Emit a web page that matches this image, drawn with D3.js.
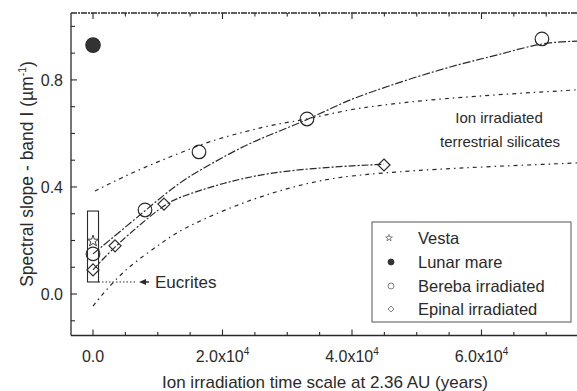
<!DOCTYPE html>
<html><head><meta charset="utf-8">
<script src="https://cdn.jsdelivr.net/npm/d3@7"></script>
<style>html,body{margin:0;padding:0;background:#fff;}svg{display:block;font-family:"Liberation Sans",Arial,sans-serif;}</style>
</head><body><svg id="c" width="577" height="391"></svg>
<script>
// ---- data ----
const beribaX = [0, 8030, 16370, 33050, 69340];
const beribaY = [0.15, 0.314, 0.531, 0.654, 0.953];
const epinalX = [0, 3400, 10960, 44940];
const epinalY = [0.09, 0.18, 0.336, 0.482];
const vestaX = [0];
const vestaY = [0.198];
const lunarX = [0];
const lunarY = [0.93];
// fit curves
const beribaFitX = [0, 8000, 13400, 18500, 23800, 28900, 33000, 38600, 41200, 49000, 56700, 62900, 69300, 75000];
const beribaFitY = [0.15, 0.31, 0.42, 0.49, 0.56, 0.61, 0.65, 0.715, 0.74, 0.805, 0.86, 0.895, 0.94, 0.945];
const epinalFitX = [0, 3400, 10960, 13500, 20000, 27400, 36700, 44900];
const epinalFitY = [0.09, 0.18, 0.336, 0.363, 0.415, 0.455, 0.475, 0.485];
const upperX = [300, 4600, 8800, 13400, 18100, 23800, 28400, 33000, 39200, 44300, 51600, 61800, 74800];
const upperY = [0.385, 0.437, 0.482, 0.527, 0.572, 0.609, 0.636, 0.652, 0.688, 0.705, 0.725, 0.744, 0.763];
const lowerX = [0, 2900, 6200, 10800, 13400, 21200, 28900, 36600, 44300, 55000, 75000];
const lowerY = [-0.045, 0.041, 0.116, 0.194, 0.239, 0.325, 0.389, 0.434, 0.452, 0.47, 0.49];
const eucriteRange = [0.045, 0.31];
const eucriteHalfWidth = 850;
const xTickMajor = [0, 20000, 40000, 60000];
const xTickLabels = ["0.0", "2.0x10", "4.0x10", "6.0x10"];
const xTickExp = ["", "4", "4", "4"];
const xTickMinor = d3.range(0, 70001, 5000);
const yTickMajor = [0, 0.4, 0.8];
const yTickLabels = ["0.0", "0.4", "0.8"];
const yTickMinor = [-0.1, 0, 0.1, 0.2, 0.3, 0.4, 0.5, 0.6, 0.7, 0.8, 0.9, 1.0];
const legendNames = ["Vesta", "Lunar mare", "Bereba irradiated", "Epinal irradiated"];

// ---- chart ----
const svg = d3.select("#c");
const ink = "#2a2a2a";
const L = 71, R = 578.6, T = 13, B = 335.5;
const x = d3.scaleLinear().domain([-3400, 75000]).range([L, R]);
const y = d3.scaleLinear().domain([-0.155, 1.05]).range([B, T]);

svg.append("defs").append("clipPath").attr("id","clip")
  .append("rect").attr("x",L).attr("y",T).attr("width",R-L).attr("height",B-T);

// frame
const frame = svg.append("g").attr("stroke", ink).attr("stroke-width", 1.3).attr("fill","none");
frame.append("line").attr("x1",L).attr("x2",R).attr("y1",B).attr("y2",B);
frame.append("line").attr("x1",L).attr("x2",R).attr("y1",T).attr("y2",T).attr("stroke-dasharray","6,1,2,1");
frame.append("line").attr("x1",L).attr("x2",L).attr("y1",T).attr("y2",B);

// ticks
const tk = svg.append("g").attr("stroke", ink).attr("stroke-width", 1.1);
xTickMinor.forEach(v => {
  const maj = xTickMajor.includes(v);
  const len = maj ? 6 : 3.5;
  tk.append("line").attr("x1",x(v)).attr("x2",x(v)).attr("y1",B).attr("y2",B-len);
  tk.append("line").attr("x1",x(v)).attr("x2",x(v)).attr("y1",T).attr("y2",T+len);
});
yTickMinor.forEach(v => {
  const maj = yTickMajor.some(m => Math.abs(m-v)<1e-9);
  const len = maj ? 6 : 4;
  tk.append("line").attr("x1",L).attr("x2",L+len).attr("y1",y(v)).attr("y2",y(v));
});

// tick labels
const tl = svg.append("g").attr("fill", ink).attr("font-size", 16);
xTickMajor.forEach((v,i) => {
  const t = tl.append("text").attr("x", x(v)).attr("y", 362).attr("text-anchor","middle");
  t.append("tspan").text(xTickLabels[i]);
  if (xTickExp[i]) t.append("tspan").attr("font-size", 10).attr("dy", -7).text(xTickExp[i]);
});
yTickMajor.forEach((v,i) => {
  tl.append("text").attr("x", 63).attr("y", y(v)).attr("dy","0.36em").attr("text-anchor","end").text(yTickLabels[i]);
});

// axis titles
svg.append("text").attr("x", 325).attr("y", 388).attr("text-anchor","middle")
  .attr("font-size", 17).attr("fill", ink).text("Ion irradiation time scale at 2.36 AU (years)");
const yt = svg.append("text").attr("transform","translate(33,174) rotate(-90)").attr("text-anchor","middle")
  .attr("font-size", 17.5).attr("fill", ink);
yt.append("tspan").text("Spectral slope - band I (\u00B5m");
yt.append("tspan").attr("font-size", 10.5).attr("dy", -7).text("-1");
yt.append("tspan").attr("dy", 7).text(")");

// curves
const line = d3.line().x(d => x(d[0])).y(d => y(d[1])).curve(d3.curveBasis);
const curves = svg.append("g").attr("clip-path","url(#clip)").attr("fill","none").attr("stroke", ink).attr("stroke-width", 1.2);
curves.append("path").attr("d", line(d3.zip(upperX, upperY))).attr("stroke-dasharray","4,4,1.5,4");
curves.append("path").attr("d", line(d3.zip(lowerX, lowerY))).attr("stroke-dasharray","4,4,1.5,4");
curves.append("path").attr("d", line(d3.zip(beribaFitX, beribaFitY))).attr("stroke-dasharray","8,2,2,2");
curves.append("path").attr("d", line(d3.zip(epinalFitX, epinalFitY))).attr("stroke-dasharray","7,2,2,2");

// eucrite box
svg.append("rect").attr("x", x(-eucriteHalfWidth)).attr("y", y(eucriteRange[1]))
  .attr("width", x(eucriteHalfWidth)-x(-eucriteHalfWidth)).attr("height", y(eucriteRange[0])-y(eucriteRange[1]))
  .attr("fill","none").attr("stroke", ink).attr("stroke-width", 1.1);
svg.append("line").attr("x1", x(eucriteHalfWidth)).attr("x2", 136).attr("y1", y(eucriteRange[0])).attr("y2", y(eucriteRange[0]))
  .attr("stroke", ink).attr("stroke-width", 1).attr("stroke-dasharray","1.5,2");
const ay = y(eucriteRange[0]);
svg.append("path").attr("d", `M139,${ay} L146,${ay-3} L146,${ay+3} Z`).attr("fill", ink);
svg.append("line").attr("x1",145).attr("x2",149).attr("y1",ay).attr("y2",ay).attr("stroke",ink).attr("stroke-width",1.5);
svg.append("text").attr("x",155).attr("y",ay).attr("dy","0.36em").attr("font-size",17).attr("fill",ink).text("Eucrites");

// annotation
const ann = svg.append("g").attr("font-size", 15).attr("fill", ink).attr("text-anchor","middle");
ann.append("text").attr("x", 499).attr("y", 123).text("Ion irradiated");
ann.append("text").attr("x", 500).attr("y", 147).text("terrestrial silicates");

// markers
const sq = (h) => `M0,${-h} L${h},0 L0,${h} L${-h},0 Z`;
const star = d3.symbol().type(d3.symbolStar).size(40);
const pts = svg.append("g").attr("stroke", ink).attr("stroke-width", 1.2);
d3.zip(beribaX, beribaY).forEach(d => {
  pts.append("circle").attr("cx", x(d[0])).attr("cy", y(d[1])).attr("r", 6.8).attr("fill","none");
});
d3.zip(epinalX, epinalY).forEach(d => {
  pts.append("path").attr("d", sq(6)).attr("transform", `translate(${x(d[0])},${y(d[1])})`).attr("fill","none");
});
d3.zip(vestaX, vestaY).forEach(d => {
  pts.append("path").attr("d", star).attr("transform", `translate(${x(d[0])},${y(d[1])})`).attr("fill","none").attr("stroke-width",0.9);
});
d3.zip(lunarX, lunarY).forEach(d => {
  pts.append("circle").attr("cx", x(d[0])).attr("cy", y(d[1])).attr("r", 7.2).attr("fill","#333");
});

// legend
const lg = svg.append("g");
lg.append("rect").attr("x",372).attr("y",222).attr("width",199).attr("height",100)
  .attr("fill","#fff").attr("stroke","#555").attr("stroke-width",1);
const ly = [238, 262, 286, 309];
const sym = lg.append("g").attr("stroke","#777").attr("stroke-width",0.9);
sym.append("path").attr("d", d3.symbol().type(d3.symbolStar).size(14)).attr("transform",`translate(389,${ly[0]})`).attr("fill","none");
sym.append("circle").attr("cx",391).attr("cy",ly[1]).attr("r",3).attr("fill","#333").attr("stroke","#333");
sym.append("circle").attr("cx",391).attr("cy",ly[2]).attr("r",3).attr("fill","none");
sym.append("path").attr("d", sq(3)).attr("transform",`translate(391,${ly[3]})`).attr("fill","none");
legendNames.forEach((n,i) => {
  lg.append("text").attr("x",418).attr("y",ly[i]).attr("dy","0.36em").attr("font-size",16.5).attr("fill",ink).text(n);
});
</script></body></html>
